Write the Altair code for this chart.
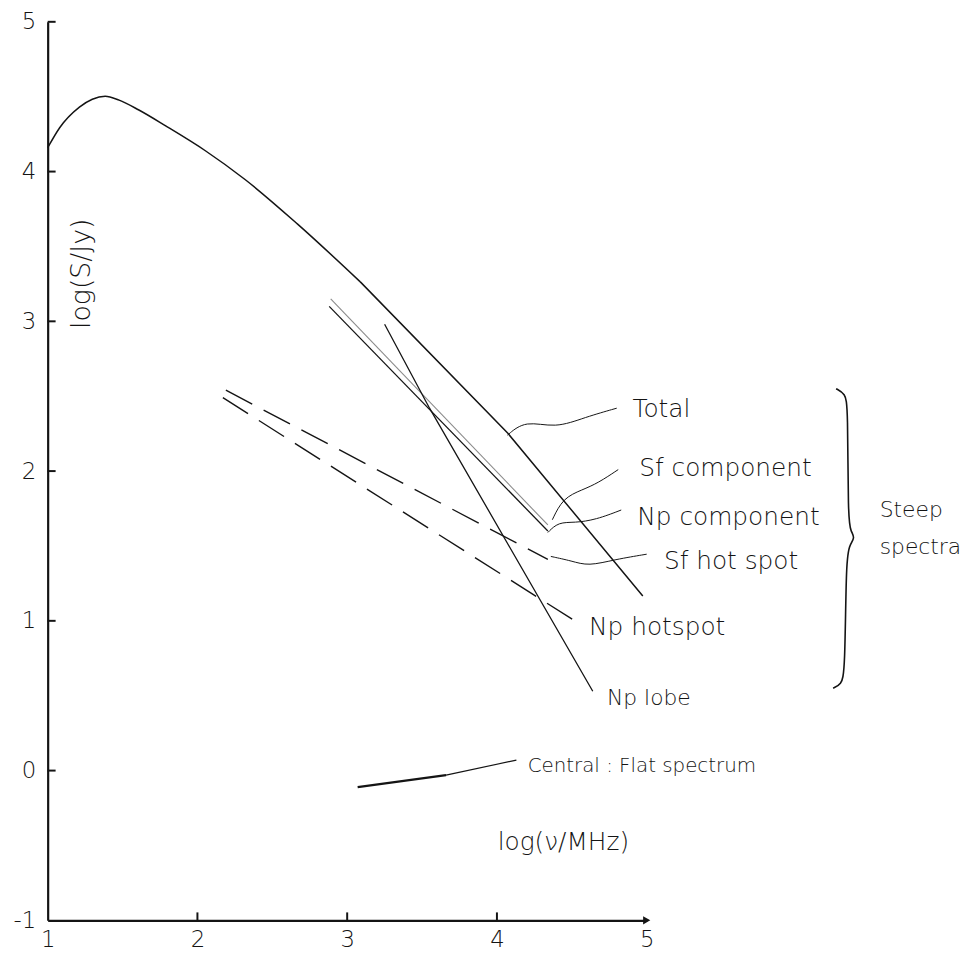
import altair as alt
import pandas as pd

# ---------------- data (log units) ----------------
x_ticks = [1, 2, 3, 4, 5]
y_ticks = [-1, 0, 1, 2, 3, 4, 5]

# total spectrum: curved low-frequency part, then straight high-frequency part
total_curve_x = [1.00, 1.079, 1.212, 1.298, 1.384, 1.477, 1.609, 1.788, 2.053, 2.318, 2.669, 3.086]
total_curve_y = [4.159, 4.291, 4.430, 4.483, 4.503, 4.477, 4.411, 4.305, 4.139, 3.947, 3.649, 3.265]
total_straight_x = [3.086, 4.073, 4.974]
total_straight_y = [3.265, 2.252, 1.166]

sf_comp_x = [2.89, 4.34]
sf_comp_y = [3.15, 1.64]
np_comp_x = [2.88, 4.34]
np_comp_y = [3.10, 1.60]

np_lobe_x = [3.25, 3.55, 4.64]
np_lobe_y = [2.98, 2.42, 0.53]

sf_hot_x = [2.19, 4.34]
sf_hot_y = [2.54, 1.41]
np_hot_x = [2.17, 4.52]
np_hot_y = [2.49, 1.00]

central_x = [3.07, 3.66]
central_y = [-0.11, -0.03]

# leader curves from lines to labels
leader_total_x = [4.07, 4.19, 4.39, 4.59, 4.80]
leader_total_y = [2.24, 2.34, 2.285, 2.36, 2.42]
leader_sfc_x = [4.37, 4.44, 4.57, 4.675, 4.81]
leader_sfc_y = [1.675, 1.82, 1.875, 1.92, 2.01]
leader_npc_x = [4.34, 4.41, 4.52, 4.66, 4.83]
leader_npc_y = [1.59, 1.66, 1.655, 1.675, 1.74]
leader_sfh_x = [4.36, 4.50, 4.61, 4.79, 5.00]
leader_sfh_y = [1.43, 1.40, 1.365, 1.41, 1.445]
leader_cen_x = [3.66, 4.13]
leader_cen_y = [-0.03, 0.07]

brace_x = [6.265, 6.325, 6.344, 6.344, 6.364, 6.391, 6.358, 6.331, 6.325, 6.298, 6.245]
brace_y = [2.55, 2.517, 2.437, 1.675, 1.596, 1.556, 1.51, 1.43, 0.649, 0.576, 0.55]

labels = ["Total", "Sf component", "Np component", "Sf hot spot", "Np hotspot",
          "Np lobe", "Central : Flat spectrum", "Steep", "spectra"]
label_x = [4.905, 4.95, 4.937, 5.115, 4.615, 4.735, 4.205, 6.556, 6.556]
label_y = [2.417, 2.020, 1.695, 1.397, 0.960, 0.483, 0.033, 1.742, 1.490]
label_size = [25, 25, 25, 25, 25, 22, 20, 22, 22]

FONT = "DejaVu Sans"
WEIGHT = 200
INK = "#141414"

xs = alt.Scale(domain=[1, 5], nice=False, zero=False)
ys = alt.Scale(domain=[-1, 5], nice=False, zero=False)

x_axis = alt.Axis(values=x_ticks, labelExpr="'' + datum.value", title=None, grid=False,
                  ticks=False, domainColor=INK, domainWidth=2.2, labelFontSize=23,
                  labelFont=FONT, labelFontWeight=WEIGHT, labelColor=INK,
                  labelPadding=8, labelFlush=False)
y_axis = alt.Axis(values=y_ticks, labelExpr="'' + datum.value", title=None, grid=False,
                  ticks=False, domainColor=INK, domainWidth=2.2, labelFontSize=23,
                  labelFont=FONT, labelFontWeight=WEIGHT, labelColor=INK,
                  labelPadding=12, labelFlush=False)


def X(f="x"):
    return alt.X(f + ":Q", scale=xs, axis=x_axis)


def Y(f="y"):
    return alt.Y(f + ":Q", scale=ys, axis=y_axis)


def line_layer(xv, yv, color=INK, width=1.3, dash=None, interp="linear"):
    df = pd.DataFrame({"x": xv, "y": yv, "i": list(range(len(xv)))})
    kw = dict(color=color, strokeWidth=width, interpolate=interp)
    if dash:
        kw["strokeDash"] = dash
    return alt.Chart(df).mark_line(**kw).encode(x=X(), y=Y(), order="i:Q")


axis_df = pd.DataFrame({"x": [1, 5], "y": [-1, 5]})
axes = alt.Chart(axis_df).mark_point(opacity=0).encode(x=X(), y=Y())

# inward tick marks
yt_df = pd.DataFrame({"y": y_ticks[1:]})
ytick = alt.Chart(yt_df).mark_rule(color=INK, strokeWidth=2).encode(
    x=alt.value(0), x2=alt.value(8), y=Y())
xt_df = pd.DataFrame({"x": x_ticks[1:4]})
xtick = alt.Chart(xt_df).mark_rule(color=INK, strokeWidth=2).encode(
    y=alt.value(906), y2=alt.value(898), x=X())

arrow = alt.Chart(pd.DataFrame({"x": [5], "y": [-1]})).mark_point(
    shape="triangle-right", filled=True, size=70, color=INK, opacity=1).encode(x=X(), y=Y())

layers = [
    axes, ytick, xtick, arrow,
    line_layer(total_curve_x, total_curve_y, width=1.5, interp="monotone"),
    line_layer(total_straight_x, total_straight_y, width=1.5),
    line_layer(sf_comp_x, sf_comp_y, color="#8a8a8a", width=1.1),
    line_layer(np_comp_x, np_comp_y, width=1.3),
    line_layer(np_lobe_x, np_lobe_y, width=1.3),
    line_layer(sf_hot_x, sf_hot_y, width=1.4, dash=[30, 13]),
    line_layer(np_hot_x, np_hot_y, width=1.4, dash=[30, 13]),
    line_layer(central_x, central_y, width=2.4),
    line_layer(leader_cen_x, leader_cen_y, width=1.2),
    line_layer(leader_total_x, leader_total_y, width=1.0, interp="basis"),
    line_layer(leader_sfc_x, leader_sfc_y, width=1.0, interp="basis"),
    line_layer(leader_npc_x, leader_npc_y, width=1.0, interp="basis"),
    line_layer(leader_sfh_x, leader_sfh_y, width=1.0, interp="basis"),
    line_layer(brace_x, brace_y, width=1.6, interp="basis"),
]

lab_df = pd.DataFrame({"x": label_x, "y": label_y, "t": labels, "s": label_size})
label_layer = alt.Chart(lab_df).mark_text(
    align="left", baseline="middle", font=FONT, fontWeight=WEIGHT,
    color=INK).encode(x=X(), y=Y(), text="t:N",
                      size=alt.Size("s:Q", scale=None, legend=None))

ytitle = alt.Chart(pd.DataFrame({"x": [1.232], "y": [3.318], "t": ["log(S/Jy)"]})).mark_text(
    align="center", baseline="middle", font=FONT, fontWeight=WEIGHT, fontSize=27,
    angle=270, color=INK).encode(x=X(), y=Y(), text="t:N")
xtitle = alt.Chart(pd.DataFrame({"x": [4.444], "y": [-0.477], "t": ["log(ν/MHz)"]})).mark_text(
    align="center", baseline="middle", font=FONT, fontWeight=WEIGHT, fontSize=25,
    color=INK).encode(x=X(), y=Y(), text="t:N")

chart = alt.layer(*layers, label_layer, ytitle, xtitle).properties(
    width=604, height=906,
    background="white",
    autosize=alt.AutoSizeParams(type="none"),
    padding={"left": 40, "top": 10, "right": 326, "bottom": 29},
).configure_view(stroke="transparent", strokeWidth=0)

chart.save("out.html", embed_options={"renderer": "svg", "actions": False})
